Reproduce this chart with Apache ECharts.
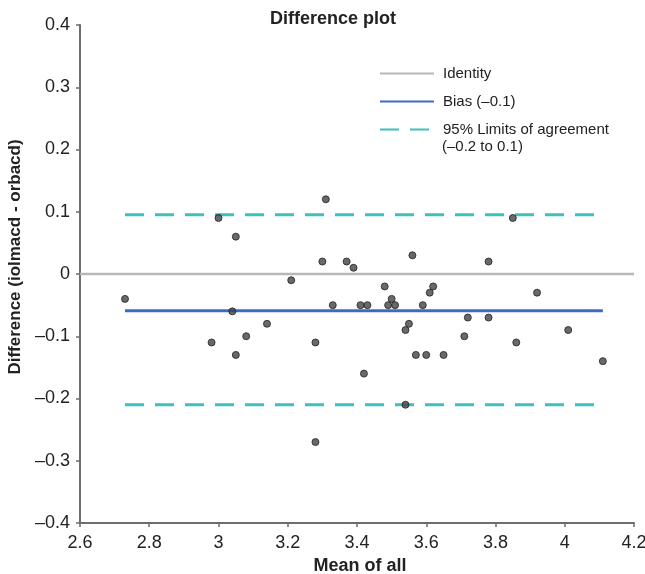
<!DOCTYPE html>
<html>
<head>
<meta charset="utf-8">
<title>Difference plot</title>
<script src="https://cdn.jsdelivr.net/npm/echarts@6/dist/echarts.min.js"></script>
<style>
  html, body { margin: 0; padding: 0; background: #fff; }
  #chart { width: 645px; height: 574px; }
</style>
</head>
<body>
<div id="chart"></div>
<script>
// mean of both methods (x) and their difference (y)
const meanVals = [2.73, 3.00, 3.05, 3.31, 3.30, 3.37, 3.39, 3.21, 3.33, 3.04,
  3.14, 3.08, 2.98, 3.28, 3.05, 3.85, 3.56, 3.78, 3.48, 3.62,
  3.61, 3.92, 3.50, 3.41, 3.43, 3.49, 3.51, 3.59, 3.72, 3.78,
  3.55, 3.54, 4.01, 3.71, 3.86, 3.57, 3.60, 3.65, 4.11, 3.42,
  3.54, 3.28]
const diffVals = [-0.04, 0.09, 0.06, 0.12, 0.02, 0.02, 0.01, -0.01, -0.05, -0.06,
  -0.08, -0.10, -0.11, -0.11, -0.13, 0.09, 0.03, 0.02, -0.02, -0.02,
  -0.03, -0.03, -0.04, -0.05, -0.05, -0.05, -0.05, -0.05, -0.07, -0.07,
  -0.08, -0.09, -0.09, -0.10, -0.11, -0.13, -0.13, -0.13, -0.14, -0.16,
  -0.21, -0.27]

const xRange = [2.6, 4.2]
const yRange = [-0.4, 0.4]
const lineRange = [2.73, 4.11]   // extent of bias / limit lines
const bias = -0.059
const loaUpper = 0.095
const loaLower = -0.21

const legendNames = ['Identity', 'Bias (\u20130.1)', '95% Limits of agreement']
const loaNote = '(\u20130.2 to 0.1)'

const FONT = "'Liberation Sans', Arial, Helvetica, sans-serif"
const fmt = v => String(+v.toFixed(1)).replace('-', '\u2013')

const chart = echarts.init(document.getElementById('chart'))
const hLine = y => lineRange.map(x => [x, y])

chart.setOption({
  animation: false,
  textStyle: { fontFamily: FONT },
  title: {
    text: 'Difference plot', left: 270, top: 10, padding: 0,
    textStyle: { fontFamily: FONT, fontSize: 18, fontWeight: 'bold', color: '#222' }
  },
  grid: { left: 80, right: 11, top: 25, bottom: 51, outerBoundsMode: 'none' },
  legend: {
    orient: 'vertical', left: 379, top: 66, padding: 0,
    itemWidth: 54, itemHeight: 14, itemGap: 13,
    data: legendNames,
    itemStyle: { opacity: 0 },
    textStyle: { fontFamily: FONT, fontSize: 15, color: '#222', padding: [0, 0, 0, 4], lineHeight: 15 }
  },
  graphic: [{
    type: 'text', left: 442, top: 139,
    style: { text: loaNote, fontFamily: FONT, fontSize: 15, fill: '#222' }
  }],
  xAxis: {
    type: 'value', min: xRange[0], max: xRange[1], interval: 0.2,
    name: 'Mean of all', nameLocation: 'middle', nameGap: 33,
    nameTextStyle: { fontFamily: FONT, fontSize: 18, fontWeight: 'bold', color: '#222', padding: [0, 0, 0, 6] },
    axisLine: { onZero: false, lineStyle: { color: '#6b6e6e', width: 2 } },
    axisTick: { length: 4, lineStyle: { color: '#6b6e6e', width: 1.5 } },
    axisLabel: { fontSize: 18, color: '#222', margin: 11, formatter: fmt },
    splitLine: { show: false }
  },
  yAxis: {
    type: 'value', min: yRange[0], max: yRange[1], interval: 0.1,
    name: 'Difference (iolmacd - orbacd)', nameLocation: 'middle', nameGap: 51,
    nameTextStyle: { fontFamily: FONT, fontSize: 17, fontWeight: 'bold', color: '#222', padding: [0, 0, 0, 34] },
    axisLine: { lineStyle: { color: '#6b6e6e', width: 2 } },
    axisTick: { length: 4, lineStyle: { color: '#6b6e6e', width: 1.5 } },
    axisLabel: { fontSize: 18, color: '#222', margin: 10, formatter: fmt },
    splitLine: { show: false }
  },
  series: [
    {
      name: legendNames[0], type: 'line', symbol: 'none', silent: true,
      data: xRange.map(x => [x, 0]),
      lineStyle: { color: '#b8b8b8', width: 2.5 }, z: 1
    },
    {
      name: legendNames[1], type: 'line', symbol: 'none', silent: true,
      data: hLine(bias),
      lineStyle: { color: '#3a6cc6', width: 3 }, z: 2
    },
    {
      name: legendNames[2], type: 'line', symbol: 'none', silent: true,
      data: hLine(loaUpper),
      lineStyle: { color: '#3cc0c0', width: 3, type: [19, 11] }, z: 2
    },
    {
      name: legendNames[2], type: 'line', symbol: 'none', silent: true,
      data: hLine(loaLower),
      lineStyle: { color: '#3cc0c0', width: 3, type: [19, 11] }, z: 2
    },
    {
      name: 'points', type: 'scatter', symbol: 'circle', symbolSize: 7,
      data: meanVals.map((m, i) => [m, diffVals[i]]),
      itemStyle: { color: '#444', borderColor: '#222', borderWidth: 1 }, z: 5
    }
  ]
})
</script>
</body>
</html>
